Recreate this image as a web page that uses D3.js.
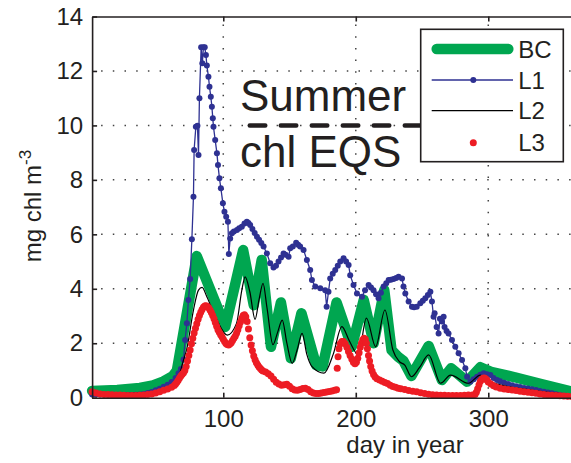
<!DOCTYPE html>
<html lang="en">
<head>
<meta charset="utf-8">
<title>chl</title>
<script src="https://d3js.org/d3.v7.min.js"></script>
<style>
  body { margin: 0; background: #fff; }
  svg { display: block; font-family: "Liberation Sans", Arial, Helvetica, sans-serif; }
  .axis text { font-size: 24px; fill: #231f20; }
  .axis path, .axis line { stroke: #231f20; stroke-width: 1.6; }
</style>
</head>
<body>
<svg id="svg" width="571" height="463"></svg>
<script>
// ---- data
var xTicks = [100, 200, 300];
var yTicks = [0, 2, 4, 6, 8, 10, 12, 14];
var legendNames = ["BC", "L1", "L2", "L3"];
var eqsValue = 10;          // summer chl EQS
var summerDays = [120, 273];

// BC (thick green)
var bcDays = [1, 20, 37, 47, 55, 62, 65, 80, 101.5, 115, 123, 129, 136, 143.5, 151, 159, 170, 175, 185.5, 197, 206, 213.5, 221.5, 227, 232, 236, 242, 255, 265, 272, 284, 294, 302, 320, 340, 365];
var bcVals = [0.25, 0.28, 0.36, 0.45, 0.6, 0.8, 1.0, 5.2, 2.6, 5.42, 3.4, 5.06, 1.87, 3.5, 1.45, 3.1, 1.2, 1.15, 3.5, 1.87, 3.59, 2.0, 3.95, 1.75, 1.5, 1.35, 0.8, 1.9, 0.65, 1.08, 0.59, 1.12, 0.95, 0.75, 0.5, 0.2];

// L1 (blue, line + markers)
var l1Days = [1, 4, 7, 10, 13, 16, 19, 22, 25, 28, 31, 34, 37, 40, 43, 46, 49, 52, 55, 58, 61, 64, 66.2, 68, 70, 71.2, 72.5, 73.7, 75, 76.3, 77.5, 78, 79.3, 80.5, 81.3, 82, 83.3, 84.2, 85, 86, 86.9, 87.6, 88.8, 89.6, 90.6, 91.4, 92.1, 92.6, 93.9, 95.2, 96, 97.1, 98.2, 99.7, 100.9, 102.2, 103.5, 104.2, 105.2, 106.5, 108, 110.3, 112, 114, 116, 117.8, 119, 120.3, 122, 123.7, 125.4, 127, 128.7, 130.4, 132.9, 135.4, 137.9, 139.8, 141.7, 143.6, 145.5, 147, 149.3, 150.5, 152.5, 155, 156.5, 158, 160.6, 163.1, 165.6, 166.9, 169.4, 173.2, 176.9, 178, 179.4, 180.7, 182.6, 184.5, 186.4, 188.3, 190.8, 192.7, 194.6, 195.8, 198.3, 200.9, 204.7, 207, 209.7, 211.5, 213.4, 215.3, 217.2, 219, 221, 223, 224.8, 226.5, 228.5, 230.5, 232.3, 234.9, 236, 237.4, 239.9, 242.4, 244, 246, 248.7, 250.6, 252.5, 254.4, 256.3, 257.5, 258.7, 259.5, 261, 262.5, 263.5, 265, 266.3, 267, 268.5, 270, 272.6, 275.1, 277.6, 280.2, 282.7, 284, 286.5, 289, 291.5, 294, 296.5, 299, 301.6, 304, 306.6, 309, 312, 315, 318, 321, 324, 327, 330, 333, 336, 339, 342, 345, 348, 351, 354, 357, 360, 364];
var l1Vals = [0.12, 0.12, 0.12, 0.12, 0.11, 0.11, 0.1, 0.1, 0.1, 0.1, 0.1, 0.11, 0.12, 0.14, 0.17, 0.21, 0.27, 0.33, 0.4, 0.48, 0.58, 0.72, 0.9, 1.05, 1.4, 2.12, 2.73, 3.59, 4.36, 5.82, 7.38, 9.1, 9.95, 9.99, 8.91, 11.0, 12.87, 12.28, 12.87, 12.87, 12.59, 12.2, 11.79, 11.42, 11.05, 10.69, 10.26, 9.95, 9.46, 8.98, 8.55, 8.06, 7.69, 7.14, 6.83, 6.65, 6.46, 5.28, 5.85, 6.04, 6.1, 6.16, 6.22, 6.28, 6.4, 6.46, 6.42, 6.34, 6.2, 6.05, 5.91, 5.8, 5.68, 5.55, 5.3, 4.94, 4.78, 4.85, 5.0, 5.15, 5.3, 5.25, 5.18, 5.49, 5.55, 5.69, 5.62, 5.55, 5.42, 5.06, 4.69, 4.32, 4.08, 4.02, 3.95, 3.34, 3.89, 4.38, 4.55, 4.69, 4.85, 5.0, 5.12, 5.0, 4.87, 4.5, 4.14, 3.83, 3.71, 3.95, 4.14, 4.05, 3.95, 3.8, 3.65, 3.85, 4.08, 4.2, 4.32, 4.33, 4.36, 4.4, 4.44, 4.38, 4.08, 3.83, 3.53, 3.34, 3.32, 3.34, 3.47, 3.56, 3.65, 3.77, 3.89, 3.53, 2.97, 3.1, 2.6, 2.36, 2.9, 2.8, 2.97, 2.6, 2.45, 2.36, 2.12, 1.87, 1.63, 1.38, 1.08, 0.77, 0.59, 0.68, 0.77, 0.84, 0.9, 0.86, 0.83, 0.72, 0.65, 0.6, 0.55, 0.5, 0.46, 0.42, 0.39, 0.36, 0.34, 0.31, 0.28, 0.25, 0.22, 0.19, 0.16, 0.13, 0.1, 0.07, 0.05, 0.04];

// L2 (thin black)
var l2Days = [1, 20, 40, 55, 62, 66, 69.5, 72.5, 77.5, 81.3, 84, 87.6, 95.2, 103, 110, 114, 116.5, 120, 124, 127, 130, 133, 137.5, 141, 144.5, 148, 152, 156, 159.5, 163, 167, 176, 183, 189.5, 195, 202, 208, 215, 222, 228, 233, 237, 242, 248, 255, 264, 271.5, 285, 294, 299, 309, 330, 364];
var l2Vals = [0.15, 0.15, 0.18, 0.28, 0.4, 0.7, 1.3, 1.8, 3.22, 3.95, 4.05, 3.71, 2.85, 2.3, 2.73, 3.95, 4.44, 3.9, 2.88, 3.6, 4.2, 3.3, 1.95, 2.4, 2.85, 2.0, 1.26, 1.8, 2.36, 1.6, 1.14, 0.9, 1.6, 2.61, 2.1, 1.57, 2.92, 1.87, 3.22, 1.75, 1.32, 1.2, 0.77, 1.1, 1.57, 0.53, 0.83, 0.53, 0.83, 0.65, 0.47, 0.3, 0.1];

// L3 (red markers only)
var l3Days = [1, 4, 7, 10, 13, 16, 19, 22, 25, 28, 31, 34, 37, 40, 43, 46, 49, 52, 55, 58, 61, 63, 64, 65, 66, 67, 68, 69, 70, 71, 72, 73, 74, 75, 76, 77, 78, 79, 80, 81, 82, 83, 84, 85, 86, 87, 88, 89, 90, 91, 92, 93, 94, 95, 96, 97, 98, 99, 100, 101, 102, 103, 104, 105, 106, 107, 108, 109, 110, 111, 112, 113, 114, 115, 116, 117, 118, 119, 120, 121, 122, 123, 124, 125, 126, 127, 128, 129, 130, 132, 134, 136, 138, 140, 142, 144, 146, 148, 150, 152, 154, 156, 158, 160, 162, 164, 166, 168, 170, 172, 174, 176, 178, 180, 182, 184, 185.5,
  186, 186.6, 187.3, 188.3, 189.5, 190.7, 192, 193.3, 194.5, 195.7, 197, 198.2, 199.4, 200.5, 201.5, 202.5, 203.4, 204.3, 205.2, 206.2, 207.2, 208, 208.8, 209.6, 210.4, 211.3, 212.3, 213.4, 214.6, 216, 218, 220, 222, 224, 226, 228, 230, 232, 234, 237, 240, 243, 246, 249, 252, 255, 258, 261, 264, 267, 270, 273, 276, 279, 282, 285, 288, 290, 291, 292, 293, 294, 295, 296, 297, 298, 299, 300, 302, 304, 306, 309, 312, 315, 318, 321, 324, 327, 330, 333, 336, 339, 342, 345, 348, 351, 354, 357, 360, 363];
var l3Vals = [0.22, 0.17, 0.14, 0.12, 0.12, 0.11, 0.1, 0.1, 0.09, 0.08, 0.08, 0.08, 0.09, 0.1, 0.12, 0.14, 0.17, 0.22, 0.27, 0.32, 0.38, 0.45, 0.5, 0.57, 0.64, 0.72, 0.8, 0.86, 0.92, 1.0, 1.15, 1.35, 1.55, 1.75, 1.98, 2.18, 2.38, 2.55, 2.72, 2.88, 3.02, 3.14, 3.24, 3.32, 3.37, 3.38, 3.35, 3.3, 3.22, 3.13, 3.02, 2.9, 2.76, 2.62, 2.5, 2.4, 2.31, 2.24, 2.15, 2.06, 1.99, 1.95, 1.94, 1.97, 2.02, 2.1, 2.18, 2.26, 2.37, 2.5, 2.64, 2.78, 2.92, 3.02, 3.05, 2.97, 2.8, 2.52, 2.2, 1.94, 1.72, 1.53, 1.39, 1.28, 1.2, 1.13, 1.07, 1.02, 0.98, 0.94, 0.88, 0.8, 0.68, 0.57, 0.5, 0.46, 0.48, 0.49, 0.42, 0.33, 0.28, 0.27, 0.3, 0.34, 0.35, 0.3, 0.22, 0.17, 0.15, 0.15, 0.17, 0.19, 0.21, 0.23, 0.25, 0.27, 0.29,
  1.08, 1.5, 1.8, 1.98, 2.06, 2.06, 1.98, 1.85, 1.7, 1.55, 1.42, 1.3, 1.25, 1.3, 1.45, 1.65, 1.85, 2.0, 2.12, 2.18, 2.15, 2.0, 1.8, 1.55, 1.35, 1.15, 0.98, 0.85, 0.76, 0.7, 0.65, 0.6, 0.56, 0.52, 0.46, 0.41, 0.38, 0.35, 0.33, 0.3, 0.26, 0.24, 0.22, 0.18, 0.15, 0.13, 0.11, 0.1, 0.09, 0.09, 0.08, 0.08, 0.08, 0.08, 0.09, 0.1, 0.1, 0.12, 0.2, 0.33, 0.48, 0.6, 0.67, 0.71, 0.72, 0.7, 0.65, 0.58, 0.5, 0.44, 0.39, 0.35, 0.32, 0.3, 0.28, 0.26, 0.24, 0.22, 0.2, 0.18, 0.16, 0.14, 0.12, 0.1, 0.09, 0.08, 0.07, 0.06, 0.05, 0.04];

var GREEN = "#00a650", BLUE = "#2e3192", RED = "#ed1c24", INK = "#231f20";

function zip(d, v) { return d.map(function(k, i) { return [k, v[i]]; }); }

var svg = d3.select("svg#svg");

var x = d3.scaleLinear().domain([1, 365]).range([92.1, 574.4]);
var y = d3.scaleLinear().domain([0, 14]).range([397.7, 16.5]);

// - dotted grid
svg.append("g").selectAll("line").data(yTicks.slice(1, -1)).join("line")
    .attr("x1", x(1)).attr("x2", x(365))
    .attr("y1", function(d) { return y(d); }).attr("y2", function(d) { return y(d); })
    .attr("stroke", "#444").attr("stroke-width", 1.5).attr("stroke-dasharray", "1.5,10.2")
    .attr("stroke-dashoffset", -9);
svg.append("g").selectAll("line").data(xTicks).join("line")
    .attr("x1", function(d) { return x(d); }).attr("x2", function(d) { return x(d); })
    .attr("y1", y(0)).attr("y2", y(14))
    .attr("stroke", "#444").attr("stroke-width", 1.5).attr("stroke-dasharray", "1.5,10.2")
    .attr("stroke-dashoffset", -9);

// - series
var line = d3.line().x(function(d) { return x(d[0]); }).y(function(d) { return y(d[1]); });

svg.append("path").datum(zip(bcDays, bcVals))
    .attr("d", line).attr("fill", "none").attr("stroke", GREEN)
    .attr("stroke-width", 10.5).attr("stroke-linejoin", "round").attr("stroke-linecap", "round");

svg.append("path").datum(zip(l1Days, l1Vals))
    .attr("d", line).attr("fill", "none").attr("stroke", BLUE).attr("stroke-width", 1.3);
svg.append("g").selectAll("circle").data(zip(l1Days, l1Vals)).join("circle")
    .attr("cx", function(d) { return x(d[0]); }).attr("cy", function(d) { return y(d[1]); })
    .attr("r", 3).attr("fill", BLUE);

svg.append("path").datum(zip(l2Days, l2Vals))
    .attr("d", line.curve(d3.curveMonotoneX)).attr("fill", "none").attr("stroke", "#000").attr("stroke-width", 1.2);
line.curve(d3.curveLinear);

svg.append("g").selectAll("circle").data(zip(l3Days, l3Vals)).join("circle")
    .attr("cx", function(d) { return x(d[0]); }).attr("cy", function(d) { return y(d[1]); })
    .attr("r", 3.5).attr("fill", RED);

// - axes
svg.append("g").attr("class", "axis")
    .attr("transform", "translate(" + x(1) + ",0)")
    .call(d3.axisLeft(y).tickValues(yTicks).tickSizeInner(-5).tickSizeOuter(0).tickPadding(9));
svg.append("g").attr("class", "axis")
    .attr("transform", "translate(0," + y(0) + ")")
    .call(d3.axisBottom(x).tickValues(xTicks).tickSizeInner(-5).tickSizeOuter(0).tickPadding(12));
svg.append("g").attr("class", "axis")
    .attr("transform", "translate(0," + y(14) + ")")
    .call(d3.axisTop(x).tickValues(xTicks).tickSizeInner(-5).tickSizeOuter(0).tickFormat(""));
svg.selectAll(".axis .domain").attr("stroke-width", 1.8);

svg.append("text").attr("x", 405).attr("y", 453)
    .attr("text-anchor", "middle").attr("font-size", 24).attr("fill", INK)
    .text("day in year");

var yl = svg.append("text").attr("transform", "translate(41,206) rotate(-90)")
    .attr("text-anchor", "middle").attr("font-size", 24).attr("fill", INK);
yl.append("tspan").text("mg chl m");
yl.append("tspan").attr("dy", -10).attr("font-size", 17).text("-3");

// - summer EQS annotation
svg.append("line")
    .attr("x1", x(summerDays[0])).attr("x2", x(summerDays[1]))
    .attr("y1", y(eqsValue)).attr("y2", y(eqsValue))
    .attr("stroke", INK).attr("stroke-width", 4.5).attr("stroke-linecap", "round")
    .attr("stroke-dasharray", "15.5,15.5");
svg.append("text").attr("x", 240).attr("y", 111).attr("font-size", 44).attr("fill", INK).text("Summer");
svg.append("text").attr("x", 240).attr("y", 167).attr("font-size", 44).attr("fill", INK).text("chl EQS");

// - legend
var lg = svg.append("g").attr("transform", "translate(420.7,29.3)");
lg.append("rect").attr("width", 142.6).attr("height", 132.4)
    .attr("fill", "#fff").attr("stroke", INK).attr("stroke-width", 1.6);
var rowY = [19.7, 50.7, 81.4, 113.4];
legendNames.forEach(function(name, i) {
    var g = lg.append("g").attr("transform", "translate(0," + rowY[i] + ")");
    if (i === 0) {
        g.append("line").attr("x1", 16).attr("x2", 87.6)
            .attr("stroke", GREEN).attr("stroke-width", 10.5).attr("stroke-linecap", "round");
    } else if (i === 1) {
        g.append("line").attr("x1", 11).attr("x2", 92.3).attr("stroke", BLUE).attr("stroke-width", 1.3);
        g.append("circle").attr("cx", 52.6).attr("r", 3).attr("fill", BLUE);
    } else if (i === 2) {
        g.append("line").attr("x1", 11).attr("x2", 92.3).attr("stroke", "#000").attr("stroke-width", 1.2);
    } else {
        g.append("circle").attr("cx", 52.6).attr("r", 3.5).attr("fill", RED);
    }
    g.append("text").attr("x", 97.5).attr("dy", "0.36em").attr("font-size", 24).attr("fill", INK).text(name);
});
</script>
</body>
</html>
